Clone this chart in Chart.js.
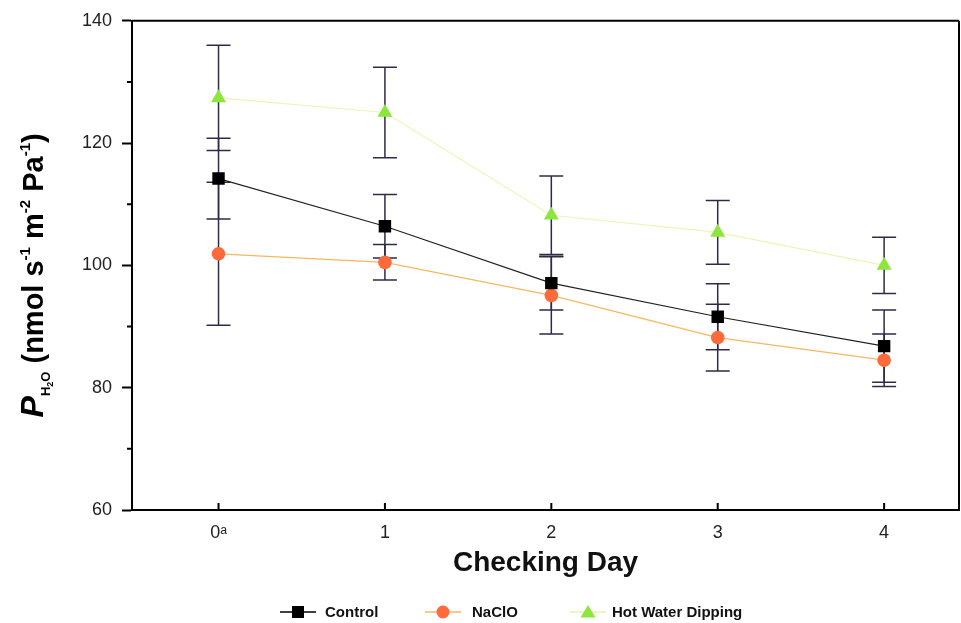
<!DOCTYPE html>
<html>
<head>
<meta charset="utf-8">
<script src="https://cdn.jsdelivr.net/npm/chart.js@4.4.1/dist/chart.umd.min.js"></script>
<style>
html,body{margin:0;padding:0;background:#fff;}
#wrap{width:961px;height:623px;position:relative;}
</style>
</head>
<body>
<div id="wrap"><canvas id="c" width="961" height="623"></canvas></div>
<script>
// ---- data ----
const days = [0, 1, 2, 3, 4];
const dayLabels = ['0ᵃ', '1', '2', '3', '4'];
const controlMean = [114.2, 106.4, 97.1, 91.6, 86.8];
const controlErr  = [6.6, 5.2, 4.4, 5.4, 5.9];
const naclMean    = [101.9, 100.5, 95.1, 88.2, 84.5];
const naclErr     = [11.7, 2.9, 6.3, 5.45, 4.3];
const hotMean     = [127.4, 125.0, 108.2, 105.4, 100.0];
const hotErr      = [8.6, 7.4, 6.4, 5.2, 4.6];
const yTicks = [60, 80, 100, 120, 140];
const seriesNames = ['Control', 'NaClO', 'Hot Water Dipping'];

const pts = (m) => days.map((d, i) => ({x: d, y: m[i]}));
const errs = [controlErr, naclErr, hotErr];

const errColor = '#2c2c48';

const errorBars = {
  id: 'errorBars',
  beforeDatasetsDraw(chart) {
    const {ctx, scales: {x, y}} = chart;
    ctx.save();
    ctx.strokeStyle = errColor;
    ctx.lineWidth = 1.5;
    chart.data.datasets.forEach((ds, di) => {
      ds.data.forEach((p, i) => {
        const e = errs[di][i];
        const px = x.getPixelForValue(p.x);
        const top = y.getPixelForValue(p.y + e);
        const bot = y.getPixelForValue(p.y - e);
        ctx.beginPath();
        ctx.moveTo(px, top); ctx.lineTo(px, bot);
        ctx.moveTo(px - 12, top); ctx.lineTo(px + 12, top);
        ctx.moveTo(px - 12, bot); ctx.lineTo(px + 12, bot);
        ctx.stroke();
      });
    });
    ctx.restore();
  }
};

function drawMarker(ctx, style, cx, cy) {
  if (style === 'rect') {
    ctx.fillStyle = '#000';
    ctx.fillRect(cx - 6, cy - 6, 12, 12);
  } else if (style === 'circle') {
    ctx.fillStyle = '#ff6a3a';
    ctx.beginPath(); ctx.arc(cx, cy, 6.5, 0, Math.PI * 2); ctx.fill();
  } else {
    ctx.fillStyle = '#8ce63c';
    ctx.beginPath();
    ctx.moveTo(cx, cy - 7); ctx.lineTo(cx + 7.5, cy + 5.5); ctx.lineTo(cx - 7.5, cy + 5.5);
    ctx.closePath(); ctx.fill();
  }
}

const decor = {
  id: 'decor',
  afterDraw(chart) {
    const {ctx, chartArea: a, scales: {x, y}} = chart;
    ctx.save();
    ctx.strokeStyle = '#000';
    ctx.lineWidth = 2;
    // top & right frame
    ctx.beginPath();
    ctx.moveTo(a.left, a.top); ctx.lineTo(a.right, a.top);
    ctx.moveTo(a.right, a.top); ctx.lineTo(a.right, a.bottom);
    ctx.stroke();
    // x inward ticks
    ctx.beginPath();
    days.forEach(d => {
      const px = x.getPixelForValue(d);
      ctx.moveTo(px, a.bottom); ctx.lineTo(px, a.bottom - 7);
    });
    ctx.stroke();
    // y minor ticks
    ctx.beginPath();
    [70, 90, 110, 130].forEach(v => {
      const py = y.getPixelForValue(v);
      ctx.moveTo(a.left, py); ctx.lineTo(a.left - 5, py);
    });
    ctx.stroke();

    // y axis title
    ctx.fillStyle = '#000';
    ctx.textBaseline = 'alphabetic';
    ctx.textAlign = 'left';
    const F = '"Liberation Sans", Arial, sans-serif';
    const segs = [
      {t: 'P', f: 'italic bold 32px ' + F, dy: 0},
      {t: 'H', f: 'bold 13px ' + F, dy: 7},
      {t: '2', f: 'bold 9px ' + F, dy: 10},
      {t: 'O', f: 'bold 13px ' + F, dy: 7},
      {t: ' (nmol s', f: 'bold 29px ' + F, dy: 0},
      {t: '-1', f: 'bold 15px ' + F, dy: -13},
      {t: ' m', f: 'bold 29px ' + F, dy: 0},
      {t: '-2', f: 'bold 15px ' + F, dy: -13},
      {t: ' Pa', f: 'bold 29px ' + F, dy: 0},
      {t: '-1', f: 'bold 15px ' + F, dy: -13},
      {t: ')', f: 'bold 29px ' + F, dy: 0}
    ];
    let total = 0;
    segs.forEach(s => { ctx.font = s.f; s.w = ctx.measureText(s.t).width; total += s.w; });
    ctx.translate(43, (a.top + a.bottom) / 2 + 10);
    ctx.rotate(-Math.PI / 2);
    let cx = -total / 2;
    segs.forEach(s => { ctx.font = s.f; ctx.fillText(s.t, cx, s.dy); cx += s.w; });
    ctx.restore();

    // legend
    ctx.save();
    const ly = 612;
    const items = [
      {style: 'rect', line: '#000', x0: 280, tx: 325},
      {style: 'circle', line: '#f5b860', x0: 425, tx: 472},
      {style: 'tri', line: '#e8f0b0', x0: 570, tx: 612}
    ];
    items.forEach((it, i) => {
      ctx.strokeStyle = it.line; ctx.lineWidth = 1.5;
      ctx.beginPath(); ctx.moveTo(it.x0, ly); ctx.lineTo(it.x0 + 36, ly); ctx.stroke();
      drawMarker(ctx, it.style, it.x0 + 18, ly);
      ctx.fillStyle = '#111';
      ctx.font = 'bold 15px ' + F;
      ctx.textBaseline = 'middle';
      ctx.fillText(seriesNames[i], it.tx, ly + 1);
    });
    ctx.restore();
  }
};

const ctx = document.getElementById('c').getContext('2d');
new Chart(ctx, {
  type: 'line',
  data: {
    datasets: [
      {label: seriesNames[0], data: pts(controlMean), borderColor: '#222', backgroundColor: '#000',
       borderWidth: 1.2, pointStyle: 'rect', pointRadius: 8.8, pointBorderWidth: 0, pointBackgroundColor: '#000'},
      {label: seriesNames[1], data: pts(naclMean), borderColor: '#f5b860', backgroundColor: '#ff6a3a',
       borderWidth: 1.2, pointStyle: 'circle', pointRadius: 6.8, pointBorderWidth: 0, pointBackgroundColor: '#ff6a3a'},
      {label: seriesNames[2], data: pts(hotMean), borderColor: '#eef3b8', backgroundColor: '#8ce63c',
       borderWidth: 1.2, pointStyle: 'triangle', pointRadius: 8.6, pointBorderWidth: 0, pointBackgroundColor: '#8ce63c'}
    ]
  },
  options: {
    responsive: false,
    animation: false,
    layout: {autoPadding: false, padding: {left: 0, right: 2, top: 20, bottom: 43}},
    plugins: {legend: {display: false}, tooltip: {enabled: false}},
    scales: {
      x: {
        type: 'linear', min: -0.52, max: 4.45,
        afterBuildTicks: (s) => { s.ticks = days.map(v => ({value: v})); },
        afterFit: (s) => { s.height = 70; s.paddingLeft = 0; s.paddingRight = 0; },
        grid: {display: true, drawOnChartArea: false, drawTicks: false},
        border: {display: true, color: '#000', width: 2},
        ticks: {padding: 12, color: '#222', font: {family: '"Liberation Sans", Arial, "DejaVu Sans", sans-serif', size: 18},
                callback: (v) => { const i = days.indexOf(v); return i >= 0 ? dayLabels[i] : ''; }},
        title: {display: true, text: 'Checking Day', color: '#111', padding: {top: 0, bottom: 0},
                font: {family: '"Liberation Sans", Arial, sans-serif', size: 28, weight: 'bold'}}
      },
      y: {
        min: 60, max: 140,
        afterBuildTicks: (s) => { s.ticks = yTicks.map(v => ({value: v})); },
        afterFit: (s) => { s.width = 132; },
        grid: {display: true, drawOnChartArea: false, drawTicks: true, tickLength: 10, tickColor: '#000', tickWidth: 2},
        border: {display: true, color: '#000', width: 2},
        ticks: {padding: 10, color: '#222', font: {family: '"Liberation Sans", Arial, sans-serif', size: 18}}
      }
    }
  },
  plugins: [errorBars, decor]
});
</script>
</body>
</html>
